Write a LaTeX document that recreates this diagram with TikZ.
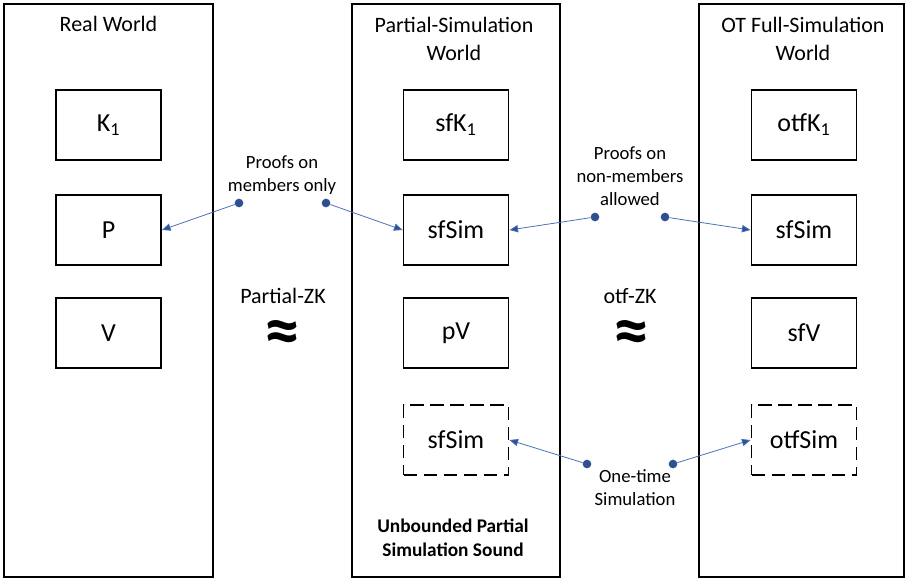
\documentclass[tikz,border=0pt]{standalone}
\usepackage{fontspec}
\setmainfont{Carlito}
\usetikzlibrary{arrows.meta}
\definecolor{bleulien}{HTML}{4A72B8}
\definecolor{bleupoint}{HTML}{2F5090}
\begin{document}
\begin{tikzpicture}[x=0.75pt,y=-0.75pt]
		% Styles
		\tikzstyle{cadre}=[draw,line width=1.4pt,minimum height=573*0.75pt]
		\tikzstyle{boite}=[draw,line width=1.4pt,minimum width=105*0.75pt,minimum height=70*0.75pt,font=\fontsize{19.5}{22}\selectfont]
		\tikzstyle{pointille}=[boite,dash pattern=on 10pt off 5pt]
		\tikzstyle{titre}=[align=center,font=\fontsize{16.5}{21}\selectfont]
		\tikzstyle{legende}=[align=center,font=\fontsize{14}{17.3}\selectfont]
		\tikzstyle{egal}=[inner sep=0pt,font=\fontsize{54}{54}\selectfont\bfseries]
		\tikzstyle{point}=[circle,fill=bleupoint,inner sep=0pt,minimum size=6.5pt]
		\tikzstyle{fleche}=[bleulien,line width=0.6pt,-{Triangle[length=6.5pt,width=5.5pt,fill=bleupoint]}]
		% Dimensions
		\def\ColA{108.5}
		\def\ColB{456}
		\def\ColC{804}
		\def\RangA{125}
		\def\RangB{230}
		\def\RangC{333}
		\def\RangD{440}
		\useasboundingbox (0,0) rectangle (906,579);
		% Mondes
		\node[cadre,minimum width=209*0.75pt] (reel) at (108.5,290.5) {};
		\node[cadre,minimum width=208*0.75pt] (partiel) at (456,290.5) {};
		\node[cadre,minimum width=205*0.75pt] (complet) at (801.5,290.5) {};
		\node[titre] (Treel) at (108.5,24) {Real World};
		\node[titre] (Tpartiel) at (454,39) {Partial-Simulation\\World};
		\node[titre] (Tcomplet) at (803,39) {OT Full-Simulation\\World};
		% Boites
		\node[boite] (K) at ({\ColA},{\RangA}) {K\textsubscript{1}};
		\node[boite] (P) at ({\ColA},{\RangB}) {P};
		\node[boite] (V) at ({\ColA},{\RangC}) {V};
		\node[boite] (sfK) at ({\ColB},{\RangA}) {sfK\textsubscript{1}};
		\node[boite] (sfSim) at ({\ColB},{\RangB}) {sfSim};
		\node[boite] (pV) at ({\ColB},{\RangC}) {pV};
		\node[pointille] (sfSimB) at ({\ColB},{\RangD}) {sfSim};
		\node[boite] (otfK) at ({\ColC},{\RangA}) {otfK\textsubscript{1}};
		\node[boite] (sfSimC) at ({\ColC},{\RangB}) {sfSim};
		\node[boite] (sfV) at ({\ColC},{\RangC}) {sfV};
		\node[pointille] (otfSim) at ({\ColC},{\RangD}) {otfSim};
		% Textes
		\node[legende] (L1) at (282,175.5) {Proofs on\\members only};
		\node[legende] (L2) at (630,176) {Proofs on\\non-members\\allowed};
		\node[legende] (L3) at (635,488) {One-time\\Simulation};
		\node[legende,font=\fontsize{14.5}{18}\selectfont\bfseries] (L4) at (453,538) {Unbounded Partial\\Simulation Sound};
		\node[titre] (zkA) at (283,296) {Partial-ZK};
		\node[titre] (zkB) at (630,296) {otf-ZK};
		\node[egal] (eqA) at (282,337) {≈};
		\node[egal] (eqB) at (631,337) {≈};
		% Points
		\node[point] (d1) at (239,203) {};
		\node[point] (d2) at (326,203) {};
		\node[point] (d3) at (595,217) {};
		\node[point] (d4) at (665,217) {};
		\node[point] (d5) at (587,464) {};
		\node[point] (d6) at (673,464) {};
		% Arcs
		\draw[fleche] (d1)--(P.east);
		\draw[fleche] (d2)--(sfSim.west);
		\draw[fleche] (d3)--(sfSim.east);
		\draw[fleche] (d4)--(sfSimC.west);
		\draw[fleche] (d5)--(sfSimB.east);
		\draw[fleche] (d6)--(otfSim.west);
	\end{tikzpicture}
\end{document}
